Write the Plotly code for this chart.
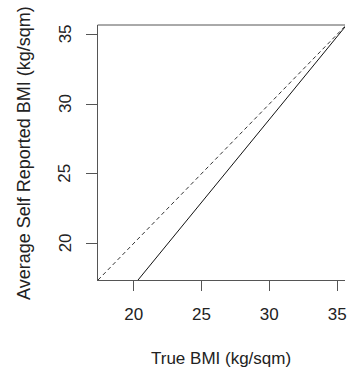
import plotly.graph_objects as go

# Data
ref_x = [17.37, 35.58]          # line of equality
ref_y = [17.37, 35.58]
true_bmi = [20.32, 35.58]       # fitted relation
reported_bmi = [17.37, 35.53]
x_ticks = [20, 25, 30, 35]
y_ticks = [20, 25, 30, 35]

font = dict(family="Liberation Sans, Arial, sans-serif", size=17, color="#222")
axcol = "#555"

L = 40
W = 347 - L
dom0 = (98 - L) / W

fig = go.Figure()
fig.add_trace(go.Scatter(x=ref_x, y=ref_y, mode="lines",
                         line=dict(color="#333", width=1, dash="4px,3px"),
                         showlegend=False, hoverinfo="skip"))
fig.add_trace(go.Scatter(x=true_bmi, y=reported_bmi, mode="lines",
                         line=dict(color="#111", width=1),
                         showlegend=False, hoverinfo="skip"))

annotations = [
    dict(text="True BMI (kg/sqm)", xref="x domain", yref="y domain",
         x=0.5, y=0, yshift=-78, showarrow=False, font=font,
         xanchor="center", yanchor="middle"),
    dict(text="Average Self Reported BMI (kg/sqm)", xref="paper", yref="y domain",
         x=0, xshift=23.5 - L, y=0.5, yshift=-1, showarrow=False,
         font=dict(family=font["family"], size=18, color=font["color"]),
         textangle=-90, xanchor="center", yanchor="middle"),
]
# y tick labels (rotated, as in R's default las=0)
for v in y_ticks:
    annotations.append(dict(text=str(v), xref="paper", yref="y", x=0, xshift=65 - L,
                            y=v, showarrow=False, font=font, textangle=-90,
                            xanchor="center", yanchor="middle"))

fig.update_layout(
    width=347, height=373,
    margin=dict(l=L, r=0, t=25, b=93),
    paper_bgcolor="white", plot_bgcolor="white",
    font=font,
    xaxis=dict(domain=[dom0, 1], range=[17.34, 35.58], tickvals=x_ticks, ticks="outside",
               ticklen=10, tickcolor=axcol, showline=True, linecolor=axcol,
               linewidth=1, showgrid=False, zeroline=False,
               ticklabelstandoff=9, ticklabeloverflow="allow", tickfont=font),
    yaxis=dict(range=[17.37, 35.67], tickvals=y_ticks, ticks="outside",
               ticklen=11, tickcolor=axcol, showline=True, linecolor=axcol,
               linewidth=1, showgrid=False, zeroline=False,
               showticklabels=False),
    shapes=[dict(type="line", xref="x domain", yref="y domain", x0=0, x1=1, y0=1, y1=1,
                 line=dict(color=axcol, width=1))],
    annotations=annotations,
)

fig.write_html("out.html")
